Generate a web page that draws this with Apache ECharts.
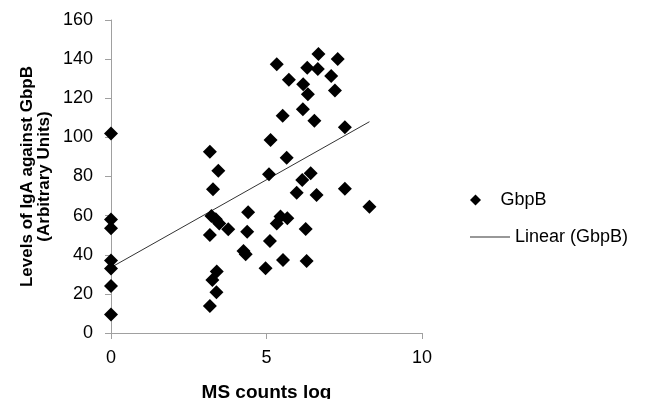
<!DOCTYPE html>
<html><head><meta charset="utf-8">
<script src="https://cdn.jsdelivr.net/npm/echarts@6/dist/echarts.min.js"></script>
<style>html,body{margin:0;padding:0;background:#fff}#c{width:654px;height:399px}</style>
</head><body><div id="c"></div>
<script>
// GbpB scatter values, one row per cluster (x and y rows have matching counts)
var xValues = [
  0, 0, 0, 0, 0, 0, 0,
  3.18, 3.45, 3.28, 3.23, 3.37, 3.48, 3.18, 3.77, 3.40, 3.26, 3.39, 3.18,
  4.41, 4.38, 4.26, 4.33,
  5.33, 6.67, 7.29, 6.31, 6.65, 5.72, 7.08, 6.18, 6.33, 7.20, 5.52, 6.17, 6.54, 7.52,
  5.13, 5.65, 5.08, 6.42, 6.15, 5.97, 6.61, 7.52, 8.31,
  5.45, 5.67, 5.33, 6.26, 5.11, 4.97, 5.53, 6.29
];
var yValues = [
  102, 58, 53.5, 37, 33, 24, 9.4,
  92.7, 83, 73.5, 59.8, 58.1, 56, 50.1, 53, 31.4, 27.1, 20.8, 13.8,
  61.7, 51.7, 41.9, 40.3,
  137.4, 142.6, 140.1, 135.6, 135, 129.5, 131.4, 127.1, 122, 123.9, 111.1, 114.4, 108.5, 105.2,
  98.7, 89.6, 81.1, 81.6, 78.2, 71.7, 70.6, 73.8, 64.6,
  59.5, 58.6, 56, 53.2, 47, 33.1, 37.3, 36.8
];
// Linear trendline endpoints
var trendX = [0, 8.31];
var trendY = [33.5, 108];
var xTicks = [0, 5, 10];
var yTicks = [0, 20, 40, 60, 80, 100, 120, 140, 160];

var pts = xValues.map(function(x,i){return [x, yValues[i]];});
var tl = trendX.map(function(x,i){return [x, trendY[i]];});
var font = 'Liberation Sans, Arial, sans-serif';
var chart = echarts.init(document.getElementById('c'));
chart.setOption({
  animation:false,
  backgroundColor:'#fff',
  grid:{left:111,right:232,top:20,bottom:66,outerBoundsMode:'none',containLabel:false},
  xAxis:{type:'value',min:xTicks[0],max:xTicks[xTicks.length-1],interval:5,
    name:'MS counts log',nameLocation:'middle',nameGap:50,
    nameTextStyle:{fontFamily:font,fontWeight:'bold',fontSize:19,color:'#000'},
    axisLine:{show:true,onZero:false,lineStyle:{color:'#a0a0a0'}},
    axisTick:{show:true,length:6,lineStyle:{color:'#a0a0a0'}},
    axisLabel:{fontFamily:font,fontSize:18,color:'#000',margin:16},
    splitLine:{show:false}},
  yAxis:{type:'value',min:yTicks[0],max:yTicks[yTicks.length-1],interval:20,
    name:'Levels of IgA against GbpB\n(Arbitrary Units)',nameLocation:'middle',nameGap:58,
    nameTextStyle:{fontFamily:font,fontWeight:'bold',fontSize:17,color:'#000',lineHeight:17},
    axisLine:{show:true,lineStyle:{color:'#a0a0a0'}},
    axisTick:{show:true,length:6,lineStyle:{color:'#a0a0a0'}},
    axisLabel:{fontFamily:font,fontSize:18,color:'#000',margin:18},
    splitLine:{show:false}},
  legend:[
    {data:[{name:'GbpB',icon:'path://M5,0L10,5L5,10L0,5Z'}],left:465,top:186,itemWidth:40,itemHeight:11,
      symbolKeepAspect:true,itemStyle:{opacity:1},textStyle:{fontFamily:font,fontSize:18,color:'#000'}},
    {data:[{name:'Linear (GbpB)',icon:'path://M0,0L40,0L40,1L0,1Z'}],left:465,top:223,itemWidth:40,itemHeight:10,
      symbolKeepAspect:true,textStyle:{fontFamily:font,fontSize:18,color:'#000'}}
  ],
  series:[
    {name:'GbpB',type:'scatter',symbol:'diamond',symbolSize:14,data:pts,
      itemStyle:{color:'#000',opacity:1},z:3},
    {name:'Linear (GbpB)',type:'line',data:tl,showSymbol:false,symbol:'none',
      lineStyle:{color:'#333',width:1},itemStyle:{color:'#333'},z:2}
  ]
});
</script></body></html>
